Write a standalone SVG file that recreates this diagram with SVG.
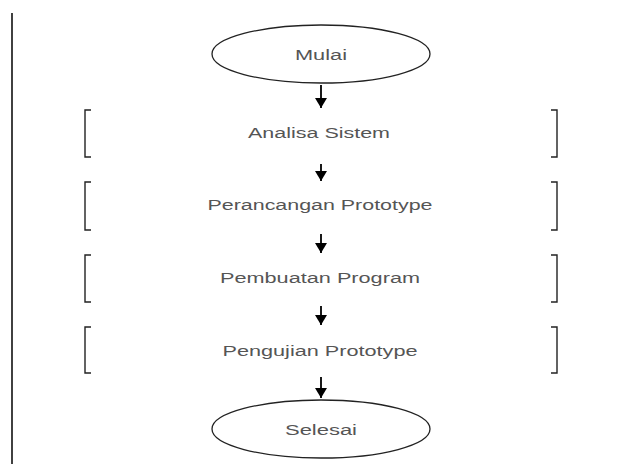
<svg xmlns="http://www.w3.org/2000/svg" width="634" height="464" viewBox="0 0 634 464">
<style>
.t{font-family:"Liberation Sans",Arial,sans-serif;font-size:14px;fill:#555;text-anchor:middle;dominant-baseline:central}
.e{fill:none;stroke:#222;stroke-width:1.3}
.b{fill:none;stroke:#222;stroke-width:1.4}
.c{stroke:#000;stroke-width:1.8;fill:none}
</style>
<defs>
<marker id="ah" viewBox="0 0 10 12" refX="10" refY="6" markerWidth="10" markerHeight="12" markerUnits="userSpaceOnUse" orient="auto">
<path d="M0,0 L10,6 L0,12 Z" fill="#000"/>
</marker>
</defs>
<rect width="634" height="464" fill="#fff"/>
<line x1="12" y1="13" x2="12" y2="464" stroke="#111" stroke-width="1.6"/>
<g id="mulai">
<ellipse class="e" cx="321" cy="54" rx="109" ry="29"/>
<text class="t" x="321" y="55" textLength="52" lengthAdjust="spacingAndGlyphs">Mulai</text>
</g>
<g id="analisa">
<path class="b" d="M91,110 H85 V157 H91"/>
<path class="b" d="M551,110 H557 V157 H551"/>
<text class="t" x="319" y="133" textLength="142" lengthAdjust="spacingAndGlyphs">Analisa Sistem</text>
</g>
<g id="perancangan">
<path class="b" d="M91,182 H85 V230 H91"/>
<path class="b" d="M551,182 H557 V230 H551"/>
<text class="t" x="320" y="205" textLength="225" lengthAdjust="spacingAndGlyphs">Perancangan Prototype</text>
</g>
<g id="pembuatan">
<path class="b" d="M91,255 H85 V302 H91"/>
<path class="b" d="M551,255 H557 V302 H551"/>
<text class="t" x="320" y="278" textLength="200" lengthAdjust="spacingAndGlyphs">Pembuatan Program</text>
</g>
<g id="pengujian">
<path class="b" d="M91,327 H85 V373 H91"/>
<path class="b" d="M551,327 H557 V373 H551"/>
<text class="t" x="320" y="351" textLength="195" lengthAdjust="spacingAndGlyphs">Pengujian Prototype</text>
</g>
<g id="selesai">
<ellipse class="e" cx="321" cy="429" rx="109" ry="29"/>
<text class="t" x="321" y="430" textLength="72" lengthAdjust="spacingAndGlyphs">Selesai</text>
</g>
<g id="connectors">
<line class="c" x1="321" y1="85" x2="321" y2="108" marker-end="url(#ah)"/>
<line class="c" x1="321" y1="164" x2="321" y2="181" marker-end="url(#ah)"/>
<line class="c" x1="321" y1="234" x2="321" y2="253" marker-end="url(#ah)"/>
<line class="c" x1="321" y1="306" x2="321" y2="325" marker-end="url(#ah)"/>
<line class="c" x1="321" y1="377" x2="321" y2="398" marker-end="url(#ah)"/>
</g>
</svg>
